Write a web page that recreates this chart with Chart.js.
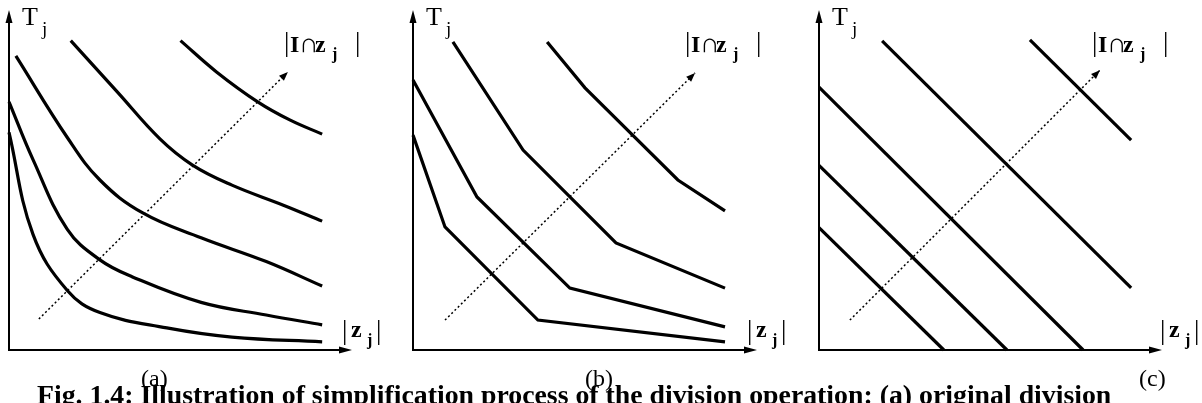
<!DOCTYPE html>
<html>
<head>
<meta charset="utf-8">
<script src="https://cdn.jsdelivr.net/npm/chart.js@4"></script>
<style>
  body {
    margin: 0;
    width: 1202px;
    height: 403px;
    overflow: hidden;
    position: relative;
    background: #fff;
    font-family: "Liberation Serif", "Times New Roman", serif;
    color: #000;
  }
  canvas { position: absolute; top: 0; }
  .sub { position: absolute; top: 366px; font-size: 24px; line-height: 24px; }
  .caption {
    position: absolute;
    left: 37px;
    top: 381px;
    font-size: 27.8px;
    line-height: 28px;
    font-weight: bold;
    white-space: nowrap;
  }
</style>
</head>
<body>
<canvas id="chart-a" width="400" height="403" style="left:0"></canvas>
<canvas id="chart-b" width="400" height="403" style="left:400px"></canvas>
<canvas id="chart-c" width="402" height="403" style="left:800px"></canvas>
<div class="sub" style="left:141px">(a)</div>
<div class="sub" style="left:585px">(b)</div>
<div class="sub" style="left:1139px">(c)</div>
<div class="caption">Fig. 1.4: Illustration of simplification process of the division operation: (a) original division</div>
<script>
"use strict";
// axis ranges shared by the three panels (|z_j| across, T_j up)
const X_MAX = 10;
const Y_MAX = 10;

// (a) original curves, one per |I∩z_j| level
const curvesA = [
  [[0, 6.4], [0.7, 3.4], [1.7, 1.75], [2.65, 1.1], [4.6, 0.65], [6.5, 0.38], [9.13, 0.24]],
  [[0, 7.3], [0.7, 5.6], [1.7, 3.55], [2.65, 2.65], [3.6, 2.15], [5.6, 1.4], [7.5, 1.03], [9.13, 0.74]],
  [[0.2, 8.65], [1.7, 6.25], [2.65, 5.0], [3.9, 4.03], [5.6, 3.3], [7.5, 2.6], [9.13, 1.88]],
  [[1.8, 9.1], [3.15, 7.6], [4.4, 6.21], [5.35, 5.44], [6.5, 4.85], [8.0, 4.26], [9.13, 3.79]],
  [[5.0, 9.1], [6.05, 8.18], [7.25, 7.3], [8.2, 6.76], [9.13, 6.35]],
];
// (b) piecewise-linear approximation
const curvesB = [
  [[0, 6.32], [0.93, 3.62], [3.63, 0.88], [9.07, 0.24]],
  [[0, 7.94], [1.86, 4.5], [4.56, 1.82], [9.07, 0.68]],
  [[1.16, 9.06], [3.2, 5.88], [5.9, 3.15], [9.07, 1.82]],
  [[3.9, 9.06], [5.0, 7.71], [7.7, 5.0], [9.07, 4.09]],
];
// (c) single straight lines
const curvesC = [
  [[0, 3.6], [3.64, 0]],
  [[0, 5.43], [5.48, 0]],
  [[0, 7.73], [7.7, 0]],
  [[1.84, 9.09], [9.1, 1.83]],
  [[6.15, 9.12], [9.1, 6.17]],
];
// dotted direction of growing |I∩z_j|
const trendA = [[0.87, 0.91], [8.13, 8.18]];
const trendB = [[0.93, 0.88], [8.2, 8.15]];
const trendC = [[0.9, 0.88], [8.19, 8.23]];

const SERIF = '"Liberation Serif", "Times New Roman", serif';

function arrowHead(ctx, tx, ty, dx, dy, len, half) {
  const bx = tx - dx * len;
  const by = ty - dy * len;
  ctx.beginPath();
  ctx.moveTo(tx, ty);
  ctx.lineTo(bx - dy * half, by + dx * half);
  ctx.lineTo(bx + dy * half, by - dx * half);
  ctx.closePath();
  ctx.fill();
}

// axes with arrows, the head of the dotted arrow and the axis labels
const axesPlugin = {
  id: "axes",
  afterDatasetsDraw(chart, args, opts) {
    const { ctx } = chart;
    const { x, y } = chart.scales;
    const left = x.getPixelForValue(0);
    const bottom = y.getPixelForValue(0);
    const right = x.getPixelForValue(X_MAX);
    const top = y.getPixelForValue(Y_MAX);

    ctx.save();
    ctx.strokeStyle = "#000";
    ctx.fillStyle = "#000";
    ctx.lineWidth = 2;
    ctx.beginPath();
    ctx.moveTo(left, top + 8);
    ctx.lineTo(left, bottom);
    ctx.lineTo(right - 8, bottom);
    ctx.stroke();
    arrowHead(ctx, left, top, 0, -1, 13, 3.5);
    arrowHead(ctx, right, bottom, 1, 0, 13, 3.5);

    const pts = chart.getDatasetMeta(chart.data.datasets.length - 1).data;
    const a = pts[pts.length - 2];
    const b = pts[pts.length - 1];
    const len = Math.hypot(b.x - a.x, b.y - a.y);
    arrowHead(ctx, b.x, b.y, (b.x - a.x) / len, (b.y - a.y) / len, 9, 3.5);

    ctx.textBaseline = "alphabetic";
    // T_j
    ctx.font = "26px " + SERIF;
    ctx.fillText("T", left + 13, top + 15);
    ctx.font = "19px " + SERIF;
    ctx.fillText("j", left + 33, top + 25);

    // |I∩z_j|
    const ax = right + opts.topDx;
    ctx.font = "27px " + SERIF;
    ctx.fillText("|", ax, top + 41);
    ctx.fillText("|", ax + 71, top + 41);
    ctx.font = "bold 24px " + SERIF;
    ctx.fillText("I", ax + 6, top + 42);
    ctx.fillText("z", ax + 31, top + 42);
    ctx.font = "27px " + SERIF;
    ctx.fillText("\u2229", ax + 15, top + 42);
    ctx.font = "bold 16px " + SERIF;
    ctx.fillText("j", ax + 48, top + 49);

    // |z_j|
    const bx = right + opts.bottomDx;
    ctx.font = "27px " + SERIF;
    ctx.fillText("|", bx, bottom - 11);
    ctx.fillText("|", bx + 34, bottom - 11);
    ctx.font = "bold 24px " + SERIF;
    ctx.fillText("z", bx + 9, bottom - 13);
    ctx.font = "bold 16px " + SERIF;
    ctx.fillText("j", bx + 25, bottom - 5);
    ctx.restore();
  },
};

const toPoints = (pairs) => pairs.map(([x, y]) => ({ x, y }));

function makeChart(id, curves, trend, tension, padding, labelOpts) {
  const datasets = curves.map((c) => ({
    data: toPoints(c),
    borderColor: "#000",
    borderWidth: 3.2,
    pointRadius: 0,
    tension,
    clip: false,
  }));
  datasets.push({
    data: toPoints(trend),
    borderColor: "#000",
    borderWidth: 1.5,
    borderDash: [2, 2.5],
    pointRadius: 0,
    clip: false,
  });
  return new Chart(document.getElementById(id), {
    type: "line",
    data: { datasets },
    options: {
      responsive: false,
      animation: false,
      events: [],
      layout: { padding },
      plugins: {
        legend: { display: false },
        tooltip: { enabled: false },
        axes: labelOpts,
      },
      scales: {
        x: { type: "linear", display: false, min: 0, max: X_MAX },
        y: { type: "linear", display: false, min: 0, max: Y_MAX },
      },
    },
    plugins: [axesPlugin],
  });
}

makeChart("chart-a", curvesA, trendA, 0.4,
  { left: 9, right: 48, top: 10, bottom: 53 }, { topDx: -68, bottomDx: -10 });
makeChart("chart-b", curvesB, trendB, 0,
  { left: 13, right: 43, top: 10, bottom: 53 }, { topDx: -72, bottomDx: -10 });
makeChart("chart-c", curvesC, trendC, 0,
  { left: 19, right: 40, top: 10, bottom: 53 }, { topDx: -70, bottomDx: -2 });
</script>
</body>
</html>
